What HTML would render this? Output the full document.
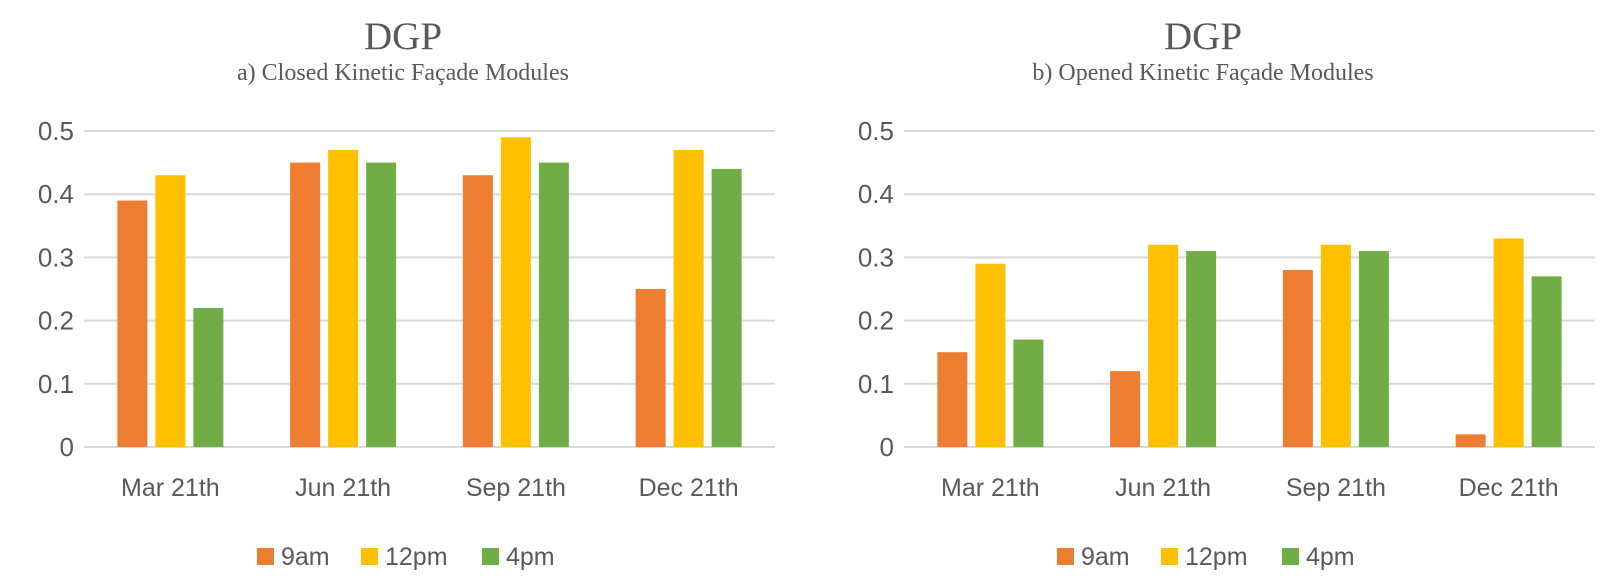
<!DOCTYPE html>
<html><head><meta charset="utf-8"><style>
body{margin:0;background:#fff;}
svg{display:block;}
</style></head><body>
<svg id="chart" width="1600" height="582" viewBox="0 0 1600 582" xmlns="http://www.w3.org/2000/svg"></svg>
<script>
const categories = ["Mar 21th","Jun 21th","Sep 21th","Dec 21th"];
const seriesNames = ["9am","12pm","4pm"];
const closed9am = [0.39,0.45,0.43,0.25];
const closed12pm = [0.43,0.47,0.49,0.47];
const closed4pm = [0.22,0.45,0.45,0.44];
const opened9am = [0.15,0.12,0.28,0.02];
const opened12pm = [0.29,0.32,0.32,0.33];
const opened4pm = [0.17,0.31,0.31,0.27];
const yTicks = [0,0.1,0.2,0.3,0.4,0.5];
const yTickLabels = ["0","0.1","0.2","0.3","0.4","0.5"];

const colors = ["#ED7D31","#FFC000","#70AD47"];
const NS = "http://www.w3.org/2000/svg";
const svg = document.getElementById('chart');
function mk(tag, attrs, parent){const e=document.createElementNS(NS,tag);for(const k in attrs)e.setAttribute(k,attrs[k]);(parent||svg).appendChild(e);return e;}

function drawChart(x0, x1, cx, sub, series, key){
  const g = mk('g',{});
  
  
  const yBase=447, yTop=131, yMax=0.5;
  const yS = v => yBase - (v/yMax)*(yBase-yTop);
  const cw = (x1-x0)/categories.length;
  const xC = i => x0 + cw*(i+0.5);
  const t = mk('text',{x:cx,y:49,'text-anchor':'middle','font-family':'"Liberation Serif",serif','font-size':39,fill:'#595959'},g);
  t.textContent='DGP';
  
  
  const st = mk('text',{x:cx,y:80,'text-anchor':'middle','font-family':'"Liberation Serif",serif','font-size':24,fill:'#595959'},g);
  st.textContent=sub;
  
  
  yTicks.forEach((v,i)=>{
    const l = mk('line',{x1:x0,x2:x1,y1:yS(v),y2:yS(v),stroke:'#d9d9d9','stroke-width':2},g);
    
    
    const tl = mk('text',{x:x0-10,y:yS(v)+9,'text-anchor':'end','font-family':'"Liberation Sans",sans-serif','font-size':26,fill:'#595959'},g);
    tl.textContent=yTickLabels[i];
    
    
  });
  const bw=30, gap=8;
  series.forEach((vals,s)=>{
    vals.forEach((v,i)=>{
      const bx = xC(i) + (s-1)*(bw+gap) - bw/2;
      const r = mk('rect',{x:bx,y:yS(v),width:bw,height:yBase-yS(v),fill:colors[s]},g);
      
      
    });
  });
  categories.forEach((c,i)=>{
    const tl = mk('text',{x:xC(i),y:496,'text-anchor':'middle','font-family':'"Liberation Sans",sans-serif','font-size':25,fill:'#595959'},g);
    tl.textContent=c;
    
    
  });
  const lx=[cx-146, cx-42, cx+79];
  seriesNames.forEach((n,s)=>{
    const r = mk('rect',{x:lx[s],y:548,width:17,height:17,fill:colors[s]},g);
    
    
    const tl = mk('text',{x:lx[s]+24,y:565,'font-family':'"Liberation Sans",sans-serif','font-size':25,fill:'#595959'},g);
    tl.textContent=n;
    
    
  });
}
drawChart(84, 775, 403, "a) Closed Kinetic Façade Modules", [closed9am,closed12pm,closed4pm], 'closed');
drawChart(904, 1595, 1203, "b) Opened Kinetic Façade Modules", [opened9am,opened12pm,opened4pm], 'opened');
</script>
</body></html>
